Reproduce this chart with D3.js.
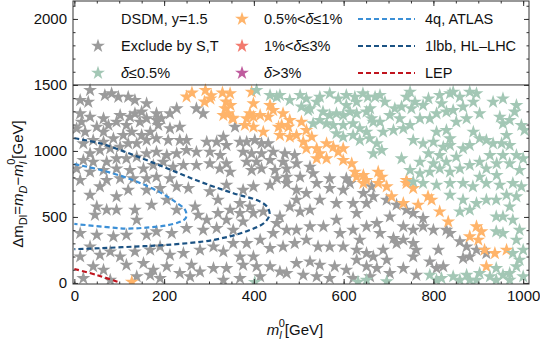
<!DOCTYPE html>
<html>
<head>
<meta charset="utf-8">
<script src="https://cdn.jsdelivr.net/npm/d3@7"></script>
<style>
  body { margin: 0; background: #fff; }
  text { font-family: "Liberation Sans", Arial, sans-serif; fill: #111; }
</style>
</head>
<body>
<svg id="chart" width="540" height="345"></svg>
<script>
// ticks
var xTicks = [0, 200, 400, 600, 800, 1000];
var yTicks = [0, 500, 1000, 1500, 2000];

// scan points, [m_l0, dm_Dl]
var grayPts = [
  [35,1460],[13,1384],[31,1371],[68,1422],[83,1435],[98,1409],[120,1409],[135,1384],[161,1359],[150,1296],
  [135,1283],[102,1270],[124,1258],[65,1245],[35,1258],[13,1283],[16,1220],[5,1170],[24,1144],[50,1182],
  [65,1144],[76,1195],[94,1220],[116,1195],[146,1220],[161,1245],[183,1283],[194,1245],[213,1283],[228,1321],
  [183,1233],[187,1195],[169,1144],[150,1119],[128,1144],[109,1119],[87,1094],[65,1068],[42,1081],[20,1056],
  [35,980],[57,1005],[80,1018],[102,1030],[120,1056],[139,1056],[161,1081],[183,1094],[209,1081],[235,1081],
  [250,1081],[213,1170],[235,1182],[272,1321],[287,1283],[295,1068],[317,1068],[302,992],[272,992],[250,1005],
  [228,980],[206,967],[183,992],[161,980],[139,955],[116,942],[94,942],[72,917],[42,917],[20,930],
  [5,866],[35,841],[65,854],[94,866],[124,854],[154,866],[176,892],[198,917],[220,879],[243,892],
  [272,892],[302,904],[324,866],[161,791],[183,803],[213,791],[131,791],[102,791],[72,778],[13,778],
  [358,1182],[332,1106],[339,1043],[325,967],[369,1068],[384,1068],[402,1081],[417,1056],[432,1056],[376,992],
  [395,980],[417,980],[443,992],[469,980],[491,967],[384,917],[406,917],[436,930],[465,917],[495,904],
  [525,879],[395,854],[417,866],[447,854],[473,866],[347,841],[339,904],[503,803],[473,803],[451,791],
  [532,829],[569,791],[606,791],
  [35,666],[57,730],[94,654],[120,704],[161,704],[191,717],[228,730],[254,717],[302,692],[320,629],
  [50,578],[72,553],[46,515],[94,553],[135,553],[139,477],[172,591],[206,629],[228,553],[269,578],
  [276,515],[295,477],[320,528],[13,376],[50,363],[87,351],[116,363],[161,363],[183,389],[217,376],
  [250,414],[287,401],[317,414],[35,275],[13,199],[57,212],[80,237],[102,199],[135,237],[169,250],
  [191,275],[213,212],[243,225],[280,250],[310,275],[42,124],[65,98],[116,136],[154,149],[176,98],
  [206,124],[235,73],[261,136],[280,85],[310,111],[139,48],[169,60],[258,48],[80,22],[20,35],[191,35],
  [339,742],[376,704],[399,730],[436,742],[473,755],[495,704],[517,679],[540,755],[569,717],[599,704],
  [614,755],[644,679],[662,730],[369,603],[391,578],[421,540],[399,528],[369,528],[347,553],[339,477],
  [376,464],[354,401],[451,452],[458,502],[480,578],[503,540],[495,629],[525,553],[547,629],[584,603],
  [621,603],[651,603],[629,528],[584,477],[555,427],[525,427],[495,401],[473,401],[443,376],[414,326],
  [384,300],[354,300],[332,237],[369,199],[399,199],[436,262],[465,275],[491,300],[517,326],[543,275],
  [569,275],[599,275],[629,250],[651,224],[592,376],[621,401],[651,427],[636,326],[406,124],[376,136],
  [339,111],[436,124],[458,85],[495,149],[525,161],[547,136],[540,48],[580,124],[606,98],[629,174],
  [651,124],[414,48],[369,35],[332,22],[510,60],[473,73],[569,35],[621,35],
  [666,654],[696,629],[718,591],[740,553],[755,528],[777,490],[703,502],[674,452],[733,427],[755,401],
  [777,427],[800,401],[829,401],[837,376],[681,376],[711,338],[733,326],[755,300],[762,250],[755,199],
  [718,300],[688,250],[666,199],[696,174],[674,111],[733,111],[762,60],[792,161],[807,111],[822,124],
  [811,250],[859,313],[874,275],[866,187],[881,199],[896,250],[918,224],[659,48],[703,73]
];

var orangePts = [
  [250,1410],[262,1440],[292,1460],[305,1420],[330,1440],[290,1372],[303,1395],[338,1372],[348,1346],[352,1250],
  [347,1435],[336,1321],[343,1283],[354,1245],[332,1270],[395,1447],[399,1359],[391,1283],[384,1245],[399,1258],
  [414,1270],[380,1195],[399,1182],[436,1346],[443,1308],[432,1258],[465,1283],[462,1195],[455,1182],[480,1233],
  [477,1182],[506,1220],[495,1119],[480,1106],[458,1119],[517,1157],[529,1106],[510,1068],[517,1018],[540,1018],
  [562,1056],[577,1030],[588,992],[599,1018],[547,980],[540,942],[562,942],[599,930],[618,904],[625,841],
  [629,803],[644,816],[651,778],[421,1144],[677,841],[685,803],[740,778],[644,755],
  [677,755],[696,730],[740,755],[755,717],[707,654],[733,603],[766,591],[788,654],[796,629],[814,540],
  [833,464],[896,427],[907,389],[881,351],[900,326],[914,250],[937,224],[963,250],[918,124],[128,8]
];

var greenPts = [
  [406,1460],[436,1422],[451,1409],[458,1422],[480,1384],[503,1422],[517,1396],[506,1334],[525,1321],[540,1371],
  [547,1409],[569,1435],[588,1396],[606,1422],[625,1409],[643,1435],[654,1409],[629,1371],[606,1346],[554,1296],
  [569,1270],[584,1283],[599,1270],[614,1296],[629,1283],[651,1296],[662,1245],[532,1207],[547,1233],[562,1207],
  [577,1195],[599,1195],[621,1207],[636,1170],[651,1144],[621,1119],[636,1081],[658,1094],[584,1132],[599,1106],
  [521,1308],
  [681,1422],[692,1371],[670,1409],[740,1409],[748,1447],[759,1371],[729,1334],[714,1321],[751,1321],[777,1346],
  [789,1396],[818,1359],[837,1435],[859,1409],[881,1447],[896,1435],[889,1371],[866,1334],[844,1308],[829,1296],
  [807,1283],[792,1245],[770,1245],[748,1195],[733,1170],[711,1157],[688,1144],[666,1220],[681,1220],[674,1056],
  [685,1005],[666,980],[729,942],[755,1081],[777,1056],[800,1068],[822,1030],[837,1043],[814,967],[789,980],
  [770,917],[800,904],[829,917],[851,955],[866,1018],[881,1043],[889,1144],[903,1094],[918,1081],[933,1056],
  [952,1056],[970,1043],[963,1119],[955,1207],[948,1258],[970,1233],[981,1296],[996,1195],[1003,1157],[985,967],
  [1000,942],[955,967],[926,967],[903,917],[881,892],[859,866],[837,841],[814,866],[792,841],[770,829],
  [748,854],[918,866],[941,904],[970,904],[992,854],[941,816],[903,803],[837,1094],[829,1157],[807,1144],
  [851,1220],[874,1245],[903,1283],[933,1371],[955,1396],[985,1346],[844,1447],[814,1422],[703,1270],[725,1245],
  [659,1321],
  [755,767],[777,755],[807,742],[837,755],[866,755],[888,730],[918,755],[948,742],[977,755],[996,730],
  [837,666],[866,629],[881,553],[859,540],[896,603],[918,629],[940,629],[963,666],[985,654],[970,578],
  [940,502],[955,502],[977,477],[992,401],[955,376],[940,389],[985,326],[1000,250],[977,224],[992,174],
  [985,124],[940,111],[955,60],[926,48],[903,73],[874,60],[844,48],[818,35],[792,60],[807,22],
  [859,22],[881,22],[896,22],[940,22],[970,22],[1000,48],[696,10],[970,73],
  [402,6],[632,8],[651,22]
];

// exclusion curves
var atlas4q = [[0,900],[60,855],[130,780],[190,688],[226,612],[244,566],[249,535],[248,490],[238,466],
  [206,436],[160,419],[115,412],[65,426],[0,447]];
var hllhc1lbb = [[0,1096],[57,1058],[131,970],[206,869],[280,767],[354,680],[413,618],[430,575],[435,520],
  [424,458],[384,392],[310,326],[206,288],[131,275],[57,263],[0,256]];
var lep = [[0,106],[50,60],[102,2]];

var starColors = { gray: "#9b9b9b", orange: "#ffb46a", green: "#a3c7b5", red: "#f27a6e", purple: "#bf5c9e" };

var svg = d3.select("#chart");
var x = d3.scaleLinear().domain([-3, 1013]).range([73, 529]);
var y = d3.scaleLinear().domain([-8, 2136]).range([284, 1]);

svg.append("defs").append("clipPath").attr("id", "plotclip")
  .append("rect").attr("x", 73).attr("y", 1).attr("width", 456).attr("height", 283);

var star = d3.symbol().type(d3.symbolStar).size(60);

var plot = svg.append("g").attr("clip-path", "url(#plotclip)");

function drawStars(pts, color) {
  plot.append("g").selectAll("path")
    .data(pts)
    .enter().append("path")
    .attr("d", star)
    .attr("transform", function (d) { return "translate(" + x(d[0]) + "," + y(d[1]) + ")"; })
    .attr("fill", color);
}
drawStars(grayPts, starColors.gray);
drawStars(orangePts, starColors.orange);
drawStars(greenPts, starColors.green);

var line = d3.line()
  .x(function (d) { return x(d[0]); })
  .y(function (d) { return y(d[1]); })
  .curve(d3.curveCatmullRom);

function drawCurve(pts, color) {
  plot.append("path").datum(pts)
    .attr("d", line)
    .attr("fill", "none")
    .attr("stroke", color)
    .attr("stroke-width", 2.2)
    .attr("stroke-dasharray", "5,3");
}
drawCurve(atlas4q, "#3b8fd6");
drawCurve(hllhc1lbb, "#1b5283");
drawCurve(lep, "#c0141e");

// frame + ticks
var axG = svg.append("g").attr("font-size", 15);

function tickAxis(axis, tx, ty, vals, len, labels) {
  var g = axG.append("g").attr("transform", "translate(" + tx + "," + ty + ")")
    .call(axis.tickValues(vals).tickSize(-len).tickSizeOuter(0).tickPadding(6)
      .tickFormat(labels ? d3.format("d") : ""));
  g.select(".domain").remove();
  g.selectAll("line").attr("stroke", "#333");
  g.selectAll("text").attr("fill", "#111").attr("font-size", 15);
  return g;
}
var xMinor = d3.range(0, 1001, 50);
var yMinor = d3.range(0, 2101, 100);
tickAxis(d3.axisBottom(x), 0, 284, xMinor, 2.5, false);
tickAxis(d3.axisBottom(x), 0, 284, xTicks, 5, true);
tickAxis(d3.axisTop(x), 0, 1, xMinor, 2.5, false);
tickAxis(d3.axisTop(x), 0, 1, xTicks, 5, false);
tickAxis(d3.axisLeft(y), 73, 0, yMinor, 2.5, false);
tickAxis(d3.axisLeft(y), 73, 0, yTicks, 5, true);
tickAxis(d3.axisRight(y), 529, 0, yMinor, 2.5, false);
tickAxis(d3.axisRight(y), 529, 0, yTicks, 5, false);

svg.append("rect").attr("x", 73).attr("y", 1).attr("width", 456).attr("height", 283)
  .attr("fill", "none").attr("stroke", "#333").attr("stroke-width", 1);
svg.append("line").attr("x1", 73).attr("x2", 529).attr("y1", y(1500)).attr("y2", y(1500))
  .attr("stroke", "#333").attr("stroke-width", 1);

// legend
var leg = svg.append("g").attr("font-size", 14.5);
var rowY = [19, 46, 73];
leg.append("text").attr("x", 121).attr("y", rowY[0] + 5).text("DSDM, y=1.5");

var starLegend = [
  { col: 0, row: 1, color: starColors.gray, label: "Exclude by S,T" },
  { col: 0, row: 2, color: starColors.green, label: "δ≤0.5%" },
  { col: 1, row: 0, color: starColors.orange, label: "0.5%<δ≤1%" },
  { col: 1, row: 1, color: starColors.red, label: "1%<δ≤3%" },
  { col: 1, row: 2, color: starColors.purple, label: "δ>3%" }
];
var colStarX = [98, 242], colTextX = [121, 264];
starLegend.forEach(function (d) {
  leg.append("path").attr("d", star)
    .attr("transform", "translate(" + colStarX[d.col] + "," + rowY[d.row] + ")")
    .attr("fill", d.color);
  var t = leg.append("text").attr("x", colTextX[d.col]).attr("y", rowY[d.row] + 5);
  d.label.split(/(δ)/).forEach(function (s) {
    if (!s) return;
    var ts = t.append("tspan").text(s);
    if (s === "δ") ts.attr("font-style", "italic");
  });
});

var lineLegend = [
  { color: "#3b8fd6", label: "4q, ATLAS" },
  { color: "#1b5283", label: "1lbb, HL\u2013LHC" },
  { color: "#c0141e", label: "LEP" }
];
lineLegend.forEach(function (d, i) {
  leg.append("line").attr("x1", 358).attr("x2", 415).attr("y1", rowY[i]).attr("y2", rowY[i])
    .attr("stroke", d.color).attr("stroke-width", 2.2).attr("stroke-dasharray", "5,3");
  leg.append("text").attr("x", 425).attr("y", rowY[i] + 5).text(d.label);
});

// axis titles
var xt = svg.append("text").attr("x", 295).attr("y", 335).attr("text-anchor", "middle").attr("font-size", 15);
xt.append("tspan").attr("font-style", "italic").text("m");
xt.append("tspan").attr("font-style", "italic").attr("font-size", 11).attr("dy", 4).text("l");
xt.append("tspan").attr("font-size", 11).attr("dx", -3).attr("dy", -12).text("0");
xt.append("tspan").attr("dy", 8).text("[GeV]");

var yt = svg.append("text").attr("transform", "translate(23,184) rotate(-90)")
  .attr("text-anchor", "middle").attr("font-size", 15);
yt.append("tspan").text("\u0394m");
yt.append("tspan").attr("font-size", 11).attr("dy", 4).text("Dl");
yt.append("tspan").attr("dy", -4).text("=");
yt.append("tspan").attr("font-style", "italic").text("m");
yt.append("tspan").attr("font-style", "italic").attr("font-size", 11).attr("dy", 4).text("D");
yt.append("tspan").attr("dy", -4).text("\u2212");
yt.append("tspan").attr("font-style", "italic").text("m");
yt.append("tspan").attr("font-style", "italic").attr("font-size", 11).attr("dy", 4).text("l");
yt.append("tspan").attr("font-size", 11).attr("dx", -3).attr("dy", -12).text("0");
yt.append("tspan").attr("dy", 8).text("[GeV]");
</script>
</body>
</html>
